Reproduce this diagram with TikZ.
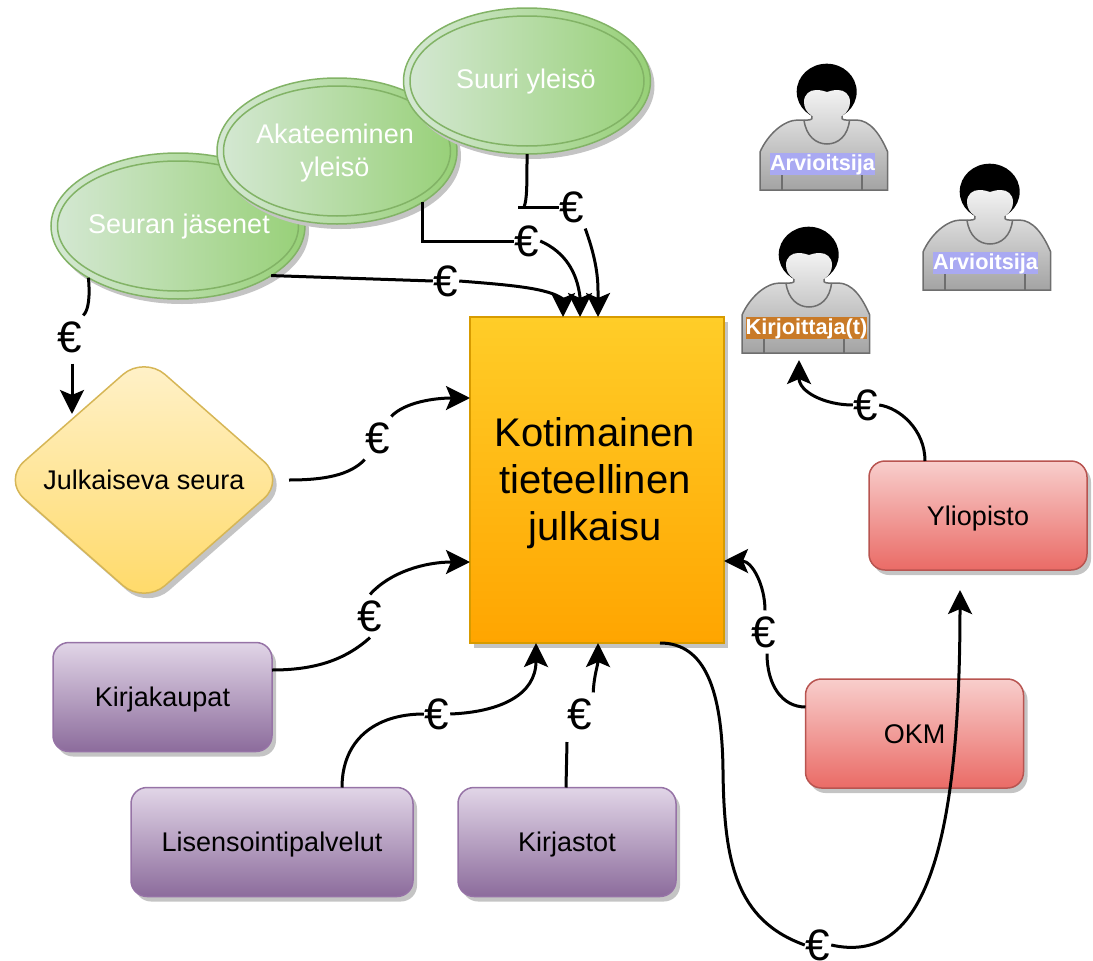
\documentclass[tikz,border=0pt]{standalone}
\usepackage{fontspec}
\setmainfont{Liberation Sans}
\usetikzlibrary{shapes.geometric,arrows.meta,shadows}
\definecolor{shad}{HTML}{C4C4C4}
\definecolor{pubtop}{HTML}{FFCD28}
\definecolor{pubbot}{HTML}{FFA500}
\definecolor{publine}{HTML}{D79B00}
\definecolor{purtop}{HTML}{E1D5E7}
\definecolor{purbot}{HTML}{8C6C9C}
\definecolor{purline}{HTML}{9673A6}
\definecolor{redtop}{HTML}{F8CECC}
\definecolor{redbot}{HTML}{EA6B66}
\definecolor{redline}{HTML}{B85450}
\definecolor{yeltop}{HTML}{FFF2CC}
\definecolor{yelbot}{HTML}{FFD966}
\definecolor{yelline}{HTML}{D6B656}
\definecolor{grnleft}{HTML}{D5E8D4}
\definecolor{grnright}{HTML}{97D077}
\definecolor{grnline}{HTML}{82B366}
\definecolor{lilac}{HTML}{A9A9F2}
\definecolor{ochre}{HTML}{C97A27}
\definecolor{figline}{HTML}{6E6E6E}
\tikzset{
  boxshadow/.style={drop shadow={shadow xshift=4pt,shadow yshift=-5pt,fill=shad,opacity=1}},
  basetext/.style={font=\fontsize{27}{33}\selectfont,align=center,inner sep=0pt,outer sep=0pt},
  oneline/.style={text height=20pt,text depth=0.6pt},
  purplebox/.style={basetext,oneline,draw=purline,line width=1.5pt,rounded corners=16pt,boxshadow,top color=purtop,bottom color=purbot,minimum width=219pt,minimum height=109pt},
  redbox/.style={basetext,oneline,draw=redline,line width=1.5pt,rounded corners=16pt,boxshadow,top color=redtop,bottom color=redbot,minimum width=218pt,minimum height=109pt},
  greenell/.style={basetext,ellipse,text=white,draw=grnline,line width=1.5pt,boxshadow,left color=grnleft,right color=grnright},
  innerell/.style={draw=grnline,line width=1.5pt},
  euro/.style={font=\fontsize{44}{44}\selectfont,inner xsep=1pt,inner ysep=6pt,outer sep=0pt},
  conn/.style={line width=3pt,black},
  arr/.style={conn,-{Stealth[length=24pt,width=24pt,inset=5pt]}},
  figlabel/.style={font=\bfseries\fontsize{21.7}{22}\selectfont,text=white,inner sep=0pt,outer sep=0pt,text height=17pt,text depth=5pt},
  actorfig/.pic={
    \fill[black] (66.7,-98.3) ellipse (30 and 28);
    \shade[top color=white!95!black,bottom color=black!36]
      (0,0) -- (0,-38) .. controls (8,-56) and (24,-70) .. (38,-70) -- (48,-70)
      .. controls (52,-70) and (53,-72) .. (52,-74)
      .. controls (46,-78) and (44,-83) .. (44,-88)
      .. controls (44,-96) and (50,-100) .. (56,-100)
      .. controls (61,-100) and (64,-99) .. (67,-98)
      .. controls (70,-99) and (73,-100) .. (78,-100)
      .. controls (84,-100) and (90,-96) .. (90,-88)
      .. controls (90,-83) and (88,-78) .. (82,-74)
      .. controls (81,-72) and (82,-70) .. (86,-70) -- (96,-70)
      .. controls (110,-70) and (120,-56) .. (127.7,-38) -- (127.7,0) -- cycle;
    \draw[figline,line width=1.5pt] (52,-74) .. controls (53,-72) and (52,-70) .. (48,-70) -- (38,-70)
      .. controls (24,-70) and (8,-56) .. (0,-38) -- (0,0) -- (127.7,0) -- (127.7,-38)
      .. controls (120,-56) and (110,-70) .. (96,-70) -- (86,-70)
      .. controls (82,-70) and (81,-72) .. (82,-74);
    \draw[figline,line width=1.5pt] (44,-70) .. controls (46,-54) and (56,-46) .. (67,-46)
      .. controls (78,-46) and (88,-54) .. (89.5,-70);
    \draw[figline,line width=1.5pt] (22,-17) -- (22,0) (102,-17) -- (102,0);
  }
}
\begin{document}
\begin{tikzpicture}[x=1pt,y=-1pt]
\useasboundingbox (0,0) rectangle (1093,961);
% ellipses
\node[greenell,minimum width=254pt,minimum height=146pt] (seuran) at (178,226) {};
\draw[innerell] (seuran.center) ellipse (120.5 and 65);
\node[greenell,minimum width=240pt,minimum height=146pt] (aka) at (337,151) {};
\draw[innerell] (aka.center) ellipse (113.5 and 65);
\node[greenell,minimum width=247pt,minimum height=146pt] (suuri) at (527,81) {};
\draw[innerell] (suuri.center) ellipse (117 and 65);
\node[basetext,text=white] (seurant) at (179,227) {Seuran jäsenet};
\node[basetext,text=white] (akat) at (335,153) {Akateeminen\\yleisö};
\node[basetext,text=white] (suurit) at (526,82) {Suuri yleisö};
% main box
\node[basetext,draw=publine,line width=1.5pt,boxshadow,top color=pubtop,bottom color=pubbot,minimum width=254pt,minimum height=326pt] (pub) at (597,480) {};
\node[basetext,font=\fontsize{40}{47}\selectfont] (pubt) at (595,483) {Kotimainen\\tieteellinen\\julkaisu};
% diamond
\node[basetext,oneline,diamond,shape aspect=1.087,draw=yelline,line width=1.5pt,rounded corners=28pt,boxshadow,top color=yeltop,bottom color=yelbot,minimum width=282pt,minimum height=248pt] (jul) at (144,480) {Julkaiseva seura};
% purple
\node[purplebox] (kauppa) at (162.5,697) {Kirjakaupat};
\node[purplebox,minimum width=282pt] (lisens) at (272,842) {Lisensointipalvelut};
\node[purplebox,minimum width=218pt] (kirjasto) at (567,842) {Kirjastot};
% red
\node[redbox] (yli) at (978,515.5) {Yliopisto};
\node[redbox] (okm) at (914.5,733.5) {OKM};
% people
\pic at (760,190) {actorfig};
\node[figlabel,fill=lilac,minimum width=105pt] (arv1) at (822.5,164) {Arvioitsija};
\pic at (923,290) {actorfig};
\node[figlabel,fill=lilac,minimum width=105pt] (arv2) at (985.5,263) {Arvioitsija};
\pic at (742,353) {actorfig};
\node[figlabel,fill=ochre,minimum width=121pt] (kir) at (806.5,328) {Kirjoittaja(t)};
% euro labels
\node[euro] (e1) at (70,337) {€};
\node[euro] (e2) at (446,281) {€};
\node[euro] (e3) at (527,241) {€};
\node[euro] (e4) at (572,207) {€};
\node[euro] (e5) at (378,438) {€};
\node[euro] (e6) at (370,616) {€};
\node[euro] (e7) at (437,714) {€};
\node[euro] (e8) at (580,714) {€};
\node[euro] (e9) at (764,632) {€};
\node[euro] (e10) at (866,405) {€};
\node[euro] (e11) at (818,945) {€};
% connectors
\draw[conn] (seuran.210.9) .. controls (90,295) and (89,310) .. (e1.north east);
\draw[arr] ([xshift=2pt,yshift=-5pt]e1.south) -- ([xshift=-72pt,yshift=66pt]jul.center);
\draw[conn] (seuran.-28.1) -- (e2.west);
\draw[arr] (e2.east) .. controls (510,285) and (548,288) .. ([xshift=93pt,yshift=18pt]pub.north west) -- ([xshift=93pt]pub.north west);
\draw[conn] (aka.-31.8) |- (e3.west);
\draw[arr] (e3.east) .. controls (565,252) and (577,272) .. ([xshift=110pt,yshift=20pt]pub.north west) -- ([xshift=110pt]pub.north west);
\coordinate (bend4) at (524,207);
\coordinate (stub4) at (518,207);
\draw[conn] (suuri.south) .. controls (527,185) and (527,200) .. (bend4);
\draw[conn] (stub4) -- (e4.west);
\draw[arr] (e4.south east) .. controls (593,250) and (598,270) .. ([xshift=128pt,yshift=26pt]pub.north west) -- ([xshift=128pt]pub.north west);
\draw[conn] ([xshift=145pt]jul.center) .. controls (325,480) and (350,475) .. (e5.south west);
\draw[arr] (e5.north east) .. controls (405,402) and (435,398) .. ([yshift=82pt]pub.west);
\draw[conn] ([yshift=27pt]kauppa.east) .. controls (315,670) and (345,660) .. (e6.south);
\draw[arr] (e6.north) .. controls (390,572) and (425,562) .. ([yshift=-82pt]pub.west);
\draw[conn] ([xshift=70pt]lisens.north) .. controls (342,740) and (375,714) .. (e7.west);
\draw[arr] (e7.east) .. controls (500,712) and (536,695) .. ([xshift=66pt]pub.south west);
\draw[conn] ([xshift=-1pt]kirjasto.north) -- ([xshift=-13pt,yshift=-28pt]e8.center);
\draw[arr] (e8.north east) .. controls (594,675) and (598,665) .. ([xshift=128pt]pub.south west);
\draw[conn] ([yshift=26.5pt]okm.west) .. controls (782,707) and (767,685) .. ([xshift=3pt]e9.south);
\draw[arr] ([xshift=1pt]e9.north) .. controls (765,585) and (752,561) .. ([yshift=-81pt]pub.east);
\draw[conn] ([xshift=-53pt]yli.north) .. controls (925,430) and (900,408) .. (e10.east);
\draw[arr] (e10.west) .. controls (825,405) and (799,392) .. ([xshift=-7.5pt,yshift=-32pt]kir.center);
\draw[conn] ([xshift=63pt]pub.south) .. controls (705,643) and (722,690) .. (723,770)
  .. controls (724,860) and (735,920) .. (e11.west);
\draw[arr] (e11.east) .. controls (920,965) and (960,860) .. (960,590);
\end{tikzpicture}
\end{document}
